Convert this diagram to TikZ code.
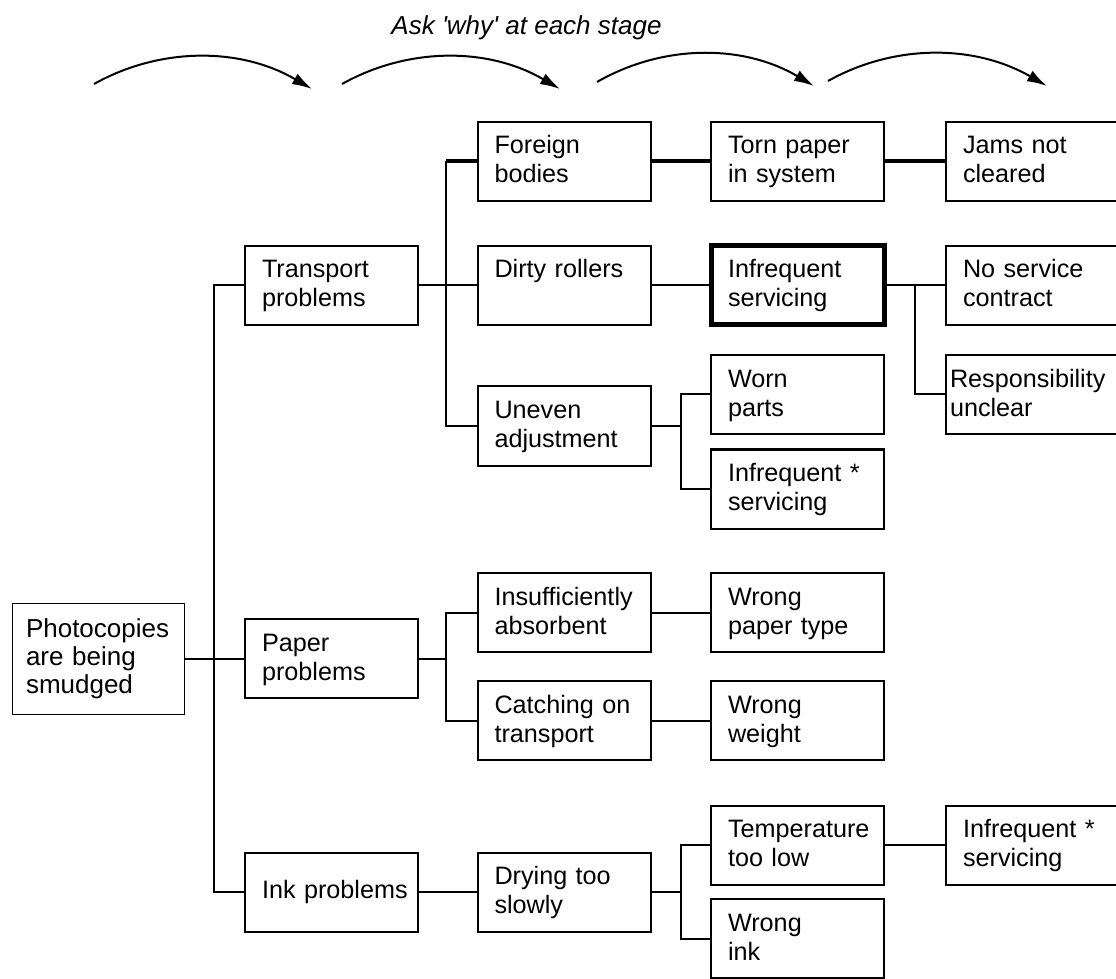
\documentclass[tikz,border=0pt]{standalone}
\usepackage{fontspec}
\setmainfont{Liberation Sans}
\usetikzlibrary{arrows.meta}
\hyphenpenalty=10000
\exhyphenpenalty=10000

\tikzset{
  causebox/.style={draw, line width=1pt, minimum width=86.5pt, minimum height=39.5pt,
    inner xsep=8.5pt, inner ysep=6pt, text width=69.5pt, align=left,
    text height=10pt, text depth=17.5pt,
    font=\fontsize{12.6}{14.5}\selectfont},
  rootbox/.style={draw, line width=0.5pt, minimum width=86pt, minimum height=55.5pt,
    inner xsep=7pt, text width=72pt, align=left,
    font=\fontsize{13}{14}\selectfont},
  keybox/.style={causebox, line width=2.5pt},
  conn/.style={line width=1pt},
  main chain/.style={line width=2pt},
  why arrow/.style={line width=1pt, -{Latex[length=10pt,width=6pt]}}
}

\begin{document}
\begin{tikzpicture}[x=0.5pt, y=-0.5pt]
\useasboundingbox (0,0) rectangle (1116,979);
\pgfmathsetmacro{\colA}{331.5}
\pgfmathsetmacro{\colB}{564}
\pgfmathsetmacro{\colC}{797.5}
\pgfmathsetmacro{\colD}{1032.5}

% heading and the four 'why' arrows
\node[anchor=base, font=\fontsize{13}{15}\selectfont\itshape] (why) at (526.5,35) {Ask \textquotesingle why\textquotesingle\ at each stage};
\draw[why arrow] (94,84) .. controls (160,47) and (240,47) .. (312,89);
\draw[why arrow] (342,84) .. controls (408,47) and (488,47) .. (560,89);
\draw[why arrow] (597,82) .. controls (663,44) and (743,44) .. (814,86);
\draw[why arrow] (828,81) .. controls (894,44) and (974,44) .. (1047,86);

% boxes
\node[rootbox] (smudged) at (98,658.5) {Photocopies\\are~being\\smudged};
\node[causebox] (transport) at (\colA,285.5) {Transport\\problems};
\node[causebox] (paper) at (\colA,658.5) {Paper\\problems};
\node[causebox, text height=17pt, text depth=10.5pt] (ink) at (\colA,892) {Ink~problems};

\node[causebox] (foreign) at (\colB,161.5) {Foreign\\bodies};
\node[causebox] (dirty) at (\colB,285.5) {Dirty~rollers};
\node[causebox] (uneven) at (\colB,426) {Uneven\\adjustment};
\node[causebox] (absorbent) at (\colB,612.5) {Insufficiently\\absorbent};
\node[causebox] (catching) at (\colB,720.5) {Catching~on\\transport};
\node[causebox] (drying) at (\colB,892) {Drying~too\\slowly};

\node[causebox] (torn) at (\colC,161.5) {Torn~paper\\in~system};
\node[keybox] (servicing) at (\colC,285.5) {Infrequent\\servicing};
\node[causebox] (worn) at (\colC,394.5) {Worn\\parts};
\node[causebox] (infreqA) at (\colC,489) {Infrequent~*\\servicing};
\node[causebox] (papertype) at (\colC,612.5) {Wrong\\paper~type};
\node[causebox] (weight) at (\colC,720.5) {Wrong\\weight};
\node[causebox] (temperature) at (\colC,845) {Temperature\\too~low};
\node[causebox] (wrongink) at (\colC,938.5) {Wrong\\ink};

\node[causebox] (jams) at (\colD,161.5) {Jams~not\\cleared};
\node[causebox] (nocontract) at (\colD,285.5) {No~service\\contract};
\node[causebox, inner xsep=2pt, text width=82.5pt] (unclear) at (\colD,394.5) {Responsibility\\unclear};
\node[causebox] (infreqB) at (\colD,845) {Infrequent~*\\servicing};

% junctions
\coordinate (trunk) at (214,658.5);
\coordinate (tjoin) at (446,285.5);
\coordinate (pjoin) at (446,658.5);
\coordinate (ujoin) at (681,426);
\coordinate (djoin) at (681,892);
\coordinate (sjoin) at (915,285.5);

% connectors
\draw[conn] (smudged) -- (paper);
\draw[conn] (transport.west) -| (trunk) |- (ink.west);

\draw[conn] (transport) -- (dirty);
\draw[conn] (foreign.west -| tjoin) |- (uneven.west);
\draw[main chain] (foreign.west -| tjoin) -- (foreign.west);
\draw[main chain] (foreign) -- (torn);
\draw[main chain] (torn) -- (jams);
\draw[conn] (dirty) -- (servicing);
\draw[conn] (servicing) -- (nocontract);
\draw[conn] (sjoin) |- (unclear.west);
\draw[conn] (uneven) -- (ujoin);
\draw[conn] (worn.west) -| (ujoin) |- (infreqA.west);

\draw[conn] (paper) -- (pjoin);
\draw[conn] (absorbent.west) -| (pjoin) |- (catching.west);
\draw[conn] (absorbent) -- (papertype);
\draw[conn] (catching) -- (weight);

\draw[conn] (ink) -- (drying);
\draw[conn] (drying) -- (djoin);
\draw[conn] (temperature.west) -| (djoin) |- (wrongink.west);
\draw[conn] (temperature) -- (infreqB);
\end{tikzpicture}
\end{document}
